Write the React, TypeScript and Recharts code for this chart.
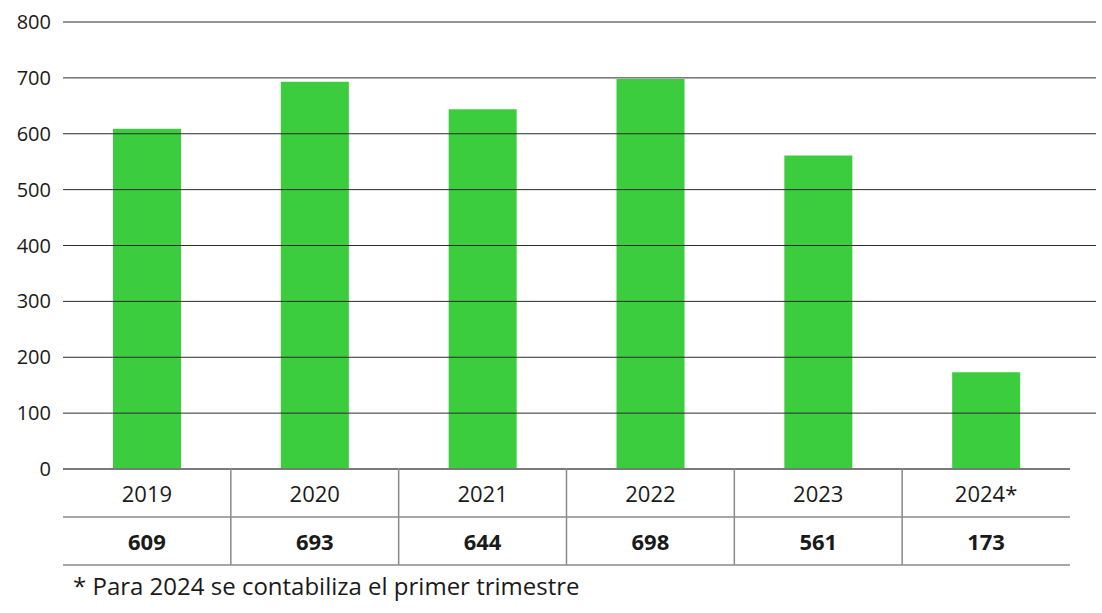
import { Bar, BarChart, ReferenceLine, XAxis, YAxis } from "recharts";

const years = ["2019", "2020", "2021", "2022", "2023", "2024*"];
const cases = [609, 693, 644, 698, 561, 173];
const yTicks = [0, 100, 200, 300, 400, 500, 600, 700, 800];
const footnote = "* Para 2024 se contabiliza el primer trimestre";

const data = years.map((year, i) => ({ year, value: cases[i] }));

const FONT = "'Open Sans', 'Noto Sans', sans-serif";
const TEXT = "#1a1a1a";
const ROW = 48;
// plot runs 63..1070 for the categories (grid runs on to 1096)
const HALF = (1070 - 63) / years.length / 2;

function TableTick(props: any) {
  const { x, y, index, payload } = props;
  return (
    <g>
      <line x1={x - HALF} x2={x + HALF} y1={y} y2={y} stroke="#7a7a7a" strokeWidth={2} />
      <line x1={x - HALF} x2={x + HALF} y1={y + ROW} y2={y + ROW} stroke="#8a8a8a" strokeWidth={1.5} />
      <line x1={x - HALF} x2={x + HALF} y1={y + ROW * 2} y2={y + ROW * 2} stroke="#8a8a8a" strokeWidth={1.5} />
      {index > 0 && (
        <line x1={x - HALF} x2={x - HALF} y1={y} y2={y + ROW * 2} stroke="#8a8a8a" strokeWidth={1.5} />
      )}
      <text x={x} y={y + ROW / 2} textAnchor="middle" dominantBaseline="central" fontSize={22} fill={TEXT} fontFamily={FONT}>
        {payload.value}
      </text>
      <text x={x} y={y + ROW * 1.5} textAnchor="middle" dominantBaseline="central" fontSize={22} fontWeight={700} fill={TEXT} fontFamily={FONT}>
        {cases[index]}
      </text>
    </g>
  );
}

export default function App() {
  return (
    <div style={{ position: "absolute", left: 0, top: 0, width: 1102, height: 613, background: "#fff" }}>
      <BarChart width={1102} height={570} data={data} margin={{ top: 22, right: 6, bottom: 0, left: 0 }} barSize={68}>
        {yTicks.slice(1).map((t) => (
          <ReferenceLine key={t} y={t} stroke="#2b2b2b" strokeWidth={1} />
        ))}
        <XAxis
          dataKey="year"
          height={101}
          axisLine={false}
          tickLine={false}
          tickSize={0}
          tickMargin={0}
          padding={{ left: 0, right: 26 }}
          interval={0}
          tick={<TableTick />}
        />
        <YAxis
          width={63}
          domain={[0, 800]}
          ticks={yTicks}
          axisLine={false}
          tickLine={false}
          tickSize={0}
          tickMargin={12}
          tick={{ fontSize: 20, fill: TEXT, fontFamily: FONT }}
        />
        <Bar dataKey="value" fill="#3ccd3f" isAnimationActive={false} />
      </BarChart>
      <div
        style={{
          position: "absolute",
          left: 73,
          top: 569,
          fontFamily: FONT,
          fontSize: 24,
          color: TEXT,
          whiteSpace: "nowrap",
        }}
      >
        {footnote}
      </div>
    </div>
  );
}
